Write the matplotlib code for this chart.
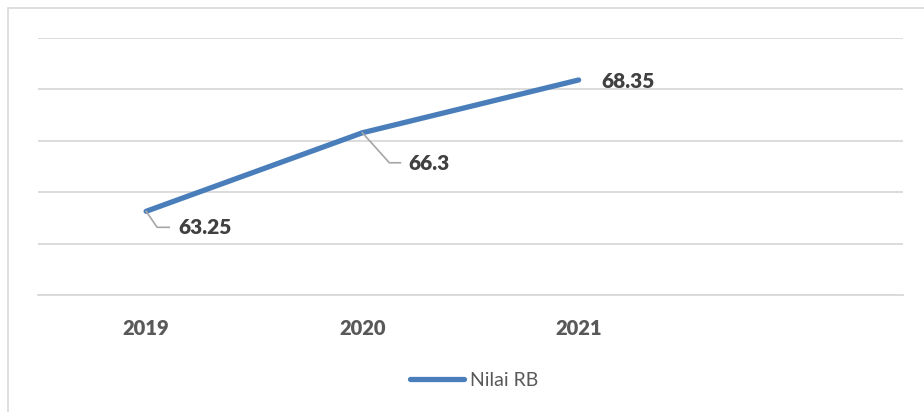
import matplotlib
matplotlib.use("Agg")
import matplotlib.pyplot as plt
from matplotlib.lines import Line2D
from matplotlib.patches import Rectangle

categories = ["2019", "2020", "2021", ""]
years = ["2019", "2020", "2021"]
values = [63.25, 66.3, 68.35]
value_labels = ["63.25", "66.3", "68.35"]
series_name = "Nilai RB"

plt.rcParams['font.family'] = ['Lato', 'DejaVu Sans']

W, H = 924, 412
fig = plt.figure(figsize=(W / 100, H / 100), dpi=100)
fig.patch.set_facecolor("white")

# outer border (partially clipped like the reference)
fig.patches.append(Rectangle((8 / W, -0.1), 1.1, 1 - 8 / H + 0.1, transform=fig.transFigure,
                             fill=False, edgecolor="#d9d9d9", linewidth=1.2))

ax = fig.add_axes([38 / W, 1 - 295 / H, (903 - 38) / W, (295 - 37.5) / H])
ax.set_xlim(-0.5, len(categories) - 0.5)
ax.set_ylim(60, 70)
ax.set_yticks([60, 62, 64, 66, 68, 70])
ax.yaxis.grid(True, color="#d9d9d9", linewidth=1.3)
ax.set_axisbelow(True)
for s in ["top", "right", "left"]:
    ax.spines[s].set_visible(False)
ax.spines["bottom"].set_color("#d9d9d9")
ax.spines["bottom"].set_linewidth(1.3)
ax.tick_params(axis="y", left=False, labelleft=False)
ax.set_xticks(range(len(categories)))
ax.set_xticklabels(categories, fontsize=14.5, fontweight="heavy", color="#595959")
ax.tick_params(axis="x", length=0, pad=17)

xs = list(range(len(years)))
color = "#4a7ebb"
ax.plot(xs, values, color=color, linewidth=3.8, solid_capstyle="round", label=series_name)

fig.canvas.draw()
# data labels with leader lines (offsets in pixels)
leaders = [[(0, 0), (11, -16), (23, -16)], [(0, 0), (27, -30), (38, -30)], None]
text_off = [(32, -16), (46, -31), (23, -1.5)]
for i, (x, v, lab) in enumerate(zip(xs, values, value_labels)):
    px, py = ax.transData.transform((x, v))
    if leaders[i] is not None:
        lx = [px + dx for dx, dy in leaders[i]]
        ly = [py + dy for dx, dy in leaders[i]]
        fig.lines.append(Line2D(lx, ly, transform=None, color="#a6a6a6", linewidth=1.2))
    tx, ty = px + text_off[i][0], py + text_off[i][1]
    fig.text(tx / W, ty / H, lab, fontsize=15, fontweight="heavy", color="#404040",
             ha="left", va="center")

fig.legend(handles=[Line2D([], [], color=color, linewidth=3.8, solid_capstyle="round")],
           labels=[series_name], loc="center", bbox_to_anchor=(474 / W, 1 - 380 / H),
           frameon=False, fontsize=14, handlelength=2.8, handletextpad=0.3,
           labelcolor="#595959")

fig.savefig("out.png", dpi=100)
